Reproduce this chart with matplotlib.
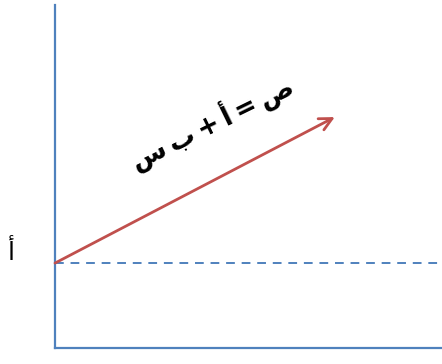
import matplotlib
matplotlib.use("Agg")
import matplotlib.pyplot as plt

# values in axis units (1 unit = intercept height)
a = 1.0
arrow_start = [0.0, a]
arrow_end = [3.29, 2.72]
x_max = 4.55
y_max = 4.04
eq_text = "ص = أ + ب س"
a_label = "أ"

blue = "#4F81BD"
red = "#C0504D"

fig = plt.figure(figsize=(4.42, 3.64), dpi=100)
ax = fig.add_axes([55 / 442, 16 / 364, 387 / 442, 343 / 364])
ax.set_xlim(0, x_max)
ax.set_ylim(0, y_max)
for s in ["top", "right"]:
    ax.spines[s].set_visible(False)
for s in ["left", "bottom"]:
    ax.spines[s].set_color(blue)
    ax.spines[s].set_linewidth(1.6)
ax.set_xticks([])
ax.set_yticks([])
ax.patch.set_alpha(0)

ax.plot([0, x_max], [a, a], color=blue, lw=1.4, ls=(0, (4.5, 3.5)), clip_on=False)
ax.annotate("", xy=arrow_end, xytext=arrow_start,
            arrowprops=dict(arrowstyle="->,head_length=0.9,head_width=0.45",
                            color=red, lw=2, shrinkA=0, shrinkB=0))

# matplotlib lays out text left to right, so the isolated letters are reversed
shown = eq_text[::-1].replace(" ", "\u2009")
ax.text(-0.51, 1.13, a_label, fontsize=18, ha="center", va="center",
        family="DejaVu Sans")
ax.text(1.84, 2.66, shown, fontsize=19, fontweight="bold",
        rotation=26, ha="center", va="center", family="DejaVu Sans",
        rotation_mode="anchor")

fig.savefig("out.png", dpi=100)
